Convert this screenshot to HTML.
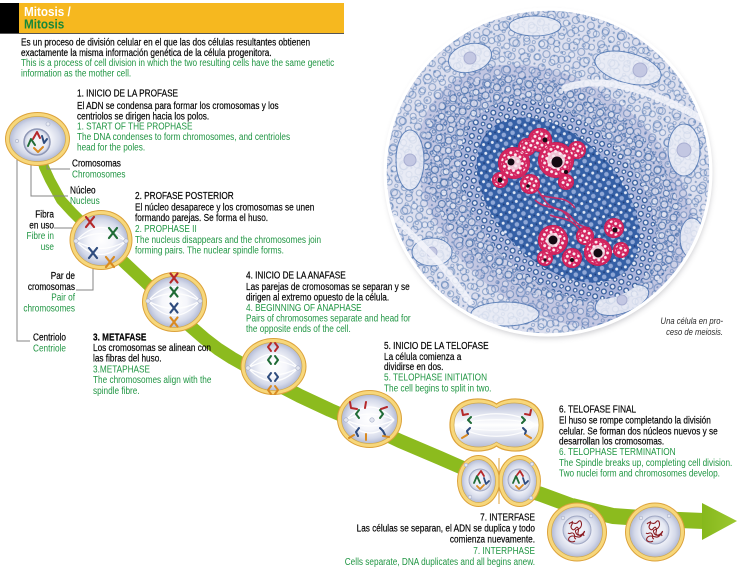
<!DOCTYPE html>
<html><head><meta charset="utf-8">
<style>
html,body{margin:0;padding:0;background:#fff;}
svg{display:block;}
text{font-family:"Liberation Sans",sans-serif;font-size:10.3px;}
.k{fill:#000;stroke:#000;stroke-width:.18px}
.g{fill:#1f9542}
</style></head><body>
<svg width="740" height="571" viewBox="0 0 740 571" xmlns="http://www.w3.org/2000/svg">
<defs>
 <radialGradient id="cg" cx="50%" cy="50%" r="50%">
  <stop offset="0" stop-color="#ffffff"/>
  <stop offset="0.45" stop-color="#f5f6fb"/>
  <stop offset="0.8" stop-color="#d4d9e9"/>
  <stop offset="1" stop-color="#b2bad5"/>
 </radialGradient>
 <radialGradient id="ng" cx="50%" cy="50%" r="50%">
  <stop offset="0" stop-color="#f6f7fb"/>
  <stop offset="0.75" stop-color="#e6e9f3"/>
  <stop offset="1" stop-color="#c3c9de"/>
 </radialGradient>
 <linearGradient id="pg" x1="0" y1="0" x2="0" y2="1">
  <stop offset="0" stop-color="#b6bdd6"/>
  <stop offset="0.25" stop-color="#e2e5f0"/>
  <stop offset="0.5" stop-color="#ffffff"/>
  <stop offset="0.75" stop-color="#e2e5f0"/>
  <stop offset="1" stop-color="#b6bdd6"/>
 </linearGradient>
 <linearGradient id="ag" x1="0" y1="0" x2="1" y2="0">
  <stop offset="0" stop-color="#86b81c"/>
  <stop offset="1" stop-color="#9cc830"/>
 </linearGradient>
 <pattern id="lace" width="16" height="14" patternUnits="userSpaceOnUse" patternTransform="rotate(20)">
  <circle cx="4" cy="4" r="3.5" fill="#dadded" stroke="#2f5d9f" stroke-width="1.1"/>
  <circle cx="12" cy="10" r="3" fill="#eef0f8" stroke="#2f5d9f" stroke-width="1"/>
  <circle cx="12" cy="3" r="1.1" fill="#2f5d9f"/>
  <circle cx="4" cy="11" r="1.6" fill="none" stroke="#2f5d9f" stroke-width=".8"/>
 </pattern>
 <pattern id="laceB" width="23" height="19" patternUnits="userSpaceOnUse" patternTransform="rotate(-35)">
  <circle cx="6" cy="6" r="4.5" fill="none" stroke="#3464a8" stroke-width="1.2"/>
  <circle cx="17" cy="13" r="3.2" fill="none" stroke="#3464a8" stroke-width="1"/>
  <circle cx="16" cy="4" r="1.4" fill="#3464a8"/>
 </pattern>
 <pattern id="lace2" width="10" height="10" patternUnits="userSpaceOnUse" patternTransform="rotate(15)">
  <rect width="10" height="10" fill="#aab4da"/>
  <circle cx="3" cy="3" r="2.4" fill="#e6eaf6" stroke="#2b5697" stroke-width="1.2"/>
  <circle cx="8" cy="7.5" r="1.8" fill="#f2f4fa" stroke="#2b5697" stroke-width="1.1"/>
 </pattern>
 <pattern id="dense" width="9" height="9" patternUnits="userSpaceOnUse" patternTransform="rotate(30)">
  <rect width="9" height="9" fill="#3560a6"/>
  <circle cx="3" cy="3" r="2.3" fill="#8fa7d6"/>
  <circle cx="7.5" cy="7" r="1.5" fill="#e1e8f6"/>
  <circle cx="7.5" cy="2" r=".9" fill="#1e3f7c"/>
 </pattern>
 <pattern id="speck" width="5" height="5" patternUnits="userSpaceOnUse" patternTransform="rotate(25)">
  <circle cx="2.5" cy="2.5" r="1.5" fill="#fbeef3"/>
  <circle cx="0" cy="0" r=".8" fill="#f3d6e2"/>
 </pattern>
 <clipPath id="cc"><circle cx="548" cy="172" r="162"/></clipPath>
 <filter id="blur" x="-20%" y="-20%" width="140%" height="140%"><feGaussianBlur stdDeviation="3"/></filter>
</defs>

<!-- Header -->
<rect x="0" y="3" width="19" height="31" fill="#000"/>
<rect x="19" y="3" width="325" height="31" fill="#f6b81f"/>
<line x1="0" y1="33.5" x2="344" y2="33.5" stroke="#555" stroke-width="1"/>
<g transform="translate(24 0) scale(.9 1)">
 <text y="16" style="font-size:13px;font-weight:bold" fill="#fff">Mitosis /</text>
 <text y="28.5" style="font-size:13px;font-weight:bold" fill="#16883a">Mitosis</text>
</g>

<!-- Big fractal circle -->
<circle cx="549" cy="175" r="163" fill="#8e8e96" opacity=".45" filter="url(#blur)"/>
<circle cx="548" cy="172" r="164.5" fill="#fff"/>
<g clip-path="url(#cc)">
 <rect x="380" y="5" width="340" height="340" fill="#dcdfee"/>
 <ellipse cx="556" cy="196" rx="155" ry="112" transform="rotate(40 556 196)" fill="#c2c6e1"/>
 <rect x="380" y="5" width="340" height="340" fill="url(#lace)" opacity=".45"/>
 <rect x="380" y="5" width="340" height="340" fill="url(#laceB)" opacity=".45"/>
 <ellipse cx="552" cy="190" rx="140" ry="100" transform="rotate(35 552 190)" fill="url(#lace)" opacity=".7"/>
 <!-- light outer regions -->
 <g fill="#eceef7" stroke="#4a72b0" stroke-width="1" opacity=".8">
  <ellipse cx="470" cy="58" rx="22" ry="14" transform="rotate(-15 470 58)"/>
  <ellipse cx="628" cy="68" rx="34" ry="15" transform="rotate(15 628 68)"/>
  <ellipse cx="684" cy="150" rx="16" ry="26"/>
  <ellipse cx="410" cy="160" rx="14" ry="30"/>
  <ellipse cx="432" cy="252" rx="20" ry="14"/>
  <ellipse cx="505" cy="314" rx="34" ry="12"/>
  <ellipse cx="622" cy="300" rx="28" ry="13" transform="rotate(-20 622 300)"/>
  <ellipse cx="692" cy="238" rx="12" ry="20"/>
  <ellipse cx="535" cy="26" rx="26" ry="10"/>
 </g>
 <g fill="#c3c7e2" stroke="#a9afd2" stroke-width="1">
  <circle cx="470" cy="58" r="6"/><circle cx="640" cy="70" r="7"/><circle cx="684" cy="150" r="7"/>
  <circle cx="410" cy="160" r="6"/><circle cx="432" cy="252" r="5"/><circle cx="622" cy="300" r="5"/>
 </g>
 <path d="M565,88 C610,72 660,96 708,122" stroke="#f3f4fa" stroke-width="7" fill="none" stroke-linecap="round" opacity=".85"/>
 <path d="M395,218 C420,242 445,266 470,302" stroke="#f3f4fa" stroke-width="6" fill="none" stroke-linecap="round" opacity=".85"/>
 <!-- dense center -->
 <ellipse cx="558" cy="200" rx="116" ry="78" transform="rotate(46 558 200)" fill="url(#lace2)"/>
 <ellipse cx="558" cy="200" rx="98" ry="62" transform="rotate(46 558 200)" fill="url(#dense)"/>
 <!-- pink lace middle -->
 <path d="M528,182 C545,192 540,205 560,210 C575,214 570,225 590,228 M540,195 C555,200 565,195 575,208 M550,215 C560,220 575,215 585,240 M535,200 C548,212 560,202 570,220" stroke="#c72a66" stroke-width="1.6" fill="none"/>
 <!-- pink upper blob -->
 <g id="pu">
  <circle cx="556" cy="160" r="18"/><circle cx="514" cy="163" r="16"/><circle cx="540" cy="140" r="12"/>
  <circle cx="577" cy="150" r="9"/><circle cx="530" cy="184" r="10"/><circle cx="500" cy="180" r="8"/>
  <circle cx="566" cy="182" r="8"/><circle cx="527" cy="147" r="9"/>
 </g>
 <g id="pl">
  <circle cx="553" cy="240" r="15"/><circle cx="598" cy="252" r="14"/><circle cx="614" cy="228" r="10"/>
  <circle cx="572" cy="258" r="10"/><circle cx="585" cy="236" r="9"/><circle cx="545" cy="258" r="8"/>
  <circle cx="621" cy="250" r="8"/>
 </g>
 <g fill="#d3245f">
  <circle cx="556" cy="160" r="18"/><circle cx="514" cy="163" r="16"/><circle cx="540" cy="140" r="12"/>
  <circle cx="577" cy="150" r="9"/><circle cx="530" cy="184" r="10"/><circle cx="500" cy="180" r="8"/>
  <circle cx="566" cy="182" r="8"/><circle cx="527" cy="147" r="9"/>
  <circle cx="553" cy="240" r="15"/><circle cx="598" cy="252" r="14"/><circle cx="614" cy="228" r="10"/>
  <circle cx="572" cy="258" r="10"/><circle cx="585" cy="236" r="9"/><circle cx="545" cy="258" r="8"/>
  <circle cx="621" cy="250" r="8"/>
 </g>
 <g fill="url(#speck)">
  <circle cx="556" cy="160" r="15"/><circle cx="514" cy="163" r="13"/><circle cx="540" cy="140" r="9.5"/>
  <circle cx="577" cy="150" r="7"/><circle cx="530" cy="184" r="8"/><circle cx="500" cy="180" r="6"/>
  <circle cx="566" cy="182" r="6"/><circle cx="527" cy="147" r="7"/>
  <circle cx="553" cy="240" r="12.5"/><circle cx="598" cy="252" r="11.5"/><circle cx="614" cy="228" r="8"/>
  <circle cx="572" cy="258" r="8"/><circle cx="585" cy="236" r="7"/><circle cx="545" cy="258" r="6"/>
  <circle cx="621" cy="250" r="6"/>
 </g>
 <g fill="#f7eaf0" opacity=".8">
  <circle cx="556" cy="160" r="9"/><circle cx="514" cy="163" r="7"/><circle cx="553" cy="240" r="7"/><circle cx="598" cy="252" r="7"/>
 </g>
 <g fill="#150a12">
  <circle cx="557" cy="162" r="5.5"/><circle cx="511" cy="162" r="3.5"/><circle cx="545" cy="140" r="2.5"/><circle cx="500" cy="180" r="2.5"/><circle cx="566" cy="172" r="2"/><circle cx="528" cy="186" r="1.8"/>
  <circle cx="553" cy="240" r="4.5"/><circle cx="598" cy="253" r="4.5"/><circle cx="615" cy="230" r="2.5"/><circle cx="572" cy="260" r="2"/><circle cx="545" cy="260" r="1.6"/>
 </g>
</g>
<circle cx="548" cy="172" r="162.5" fill="none" stroke="#fff" stroke-width="2.5"/>

<!-- Green band -->
<g fill="none" stroke="#8cbb1e" stroke-linejoin="round">
 <polyline stroke-width="10" points="40,150 44,167 50,180 61,200 72,212 90,230"/>
 <polyline stroke-width="12" points="88,228 101,240 127,265 143,280 166,302"/>
 <polyline stroke-width="13" points="162,298 174,310 190,326 205,339 218,349 232,358 248,367 264,377"/>
 <polyline stroke-width="14" points="258,373 273,382 300,396 330,410 365,425 378,430"/>
 <polyline stroke-width="14" points="366,425 400,441 440,458 472,472"/>
 <polyline stroke-width="15" points="470,470 500,482 540,494 578,508"/>
 <polyline stroke-width="16" points="572,506 613,516 655,519 704,521"/>
</g>
<polygon points="702,503 737,521 702,540" fill="url(#ag)"/>

<!-- Label lines -->
<g fill="none" stroke="#858585" stroke-width="1">
 <polyline points="17,141 17,341 30,341"/>
 <polyline points="31,150 31,196 68,196"/>
 <polyline points="47,143 47,169 70,169"/>
 <polyline points="54,228 80,228"/>
 <polyline points="76,290 93,290 93,258"/>
</g>

<!-- Cell 1 -->
<ellipse cx="37.5" cy="139" rx="32.5" ry="27" fill="#dca23a"/>
<ellipse cx="37.5" cy="139" rx="31.5" ry="26" fill="#f7d77b"/>
<ellipse cx="37.5" cy="139" rx="28" ry="22.5" fill="url(#cg)" stroke="#cfa84e" stroke-width=".7"/>
<circle cx="37" cy="142" r="13" fill="url(#ng)" stroke="#8e97b6" stroke-width="1.5"/>
<g fill="none" stroke-width="2" stroke-linecap="round" stroke-linejoin="round">
 <polyline points="33,139 37,132 40,138" stroke="#b5282a"/>
 <polyline points="28,146 31,139 35,145" stroke="#1f6b36"/>
 <polyline points="42,136 44,143 47,139" stroke="#2f4c7e"/>
 <polyline points="34,148 38,152 43,147" stroke="#d98a22"/>
</g>
<circle cx="48" cy="124" r="2" fill="#e8ebf3" stroke="#a5adc6" stroke-width=".6"/>
<circle cx="17" cy="141" r="1.6" fill="#e8ebf3" stroke="#a5adc6" stroke-width=".6"/>

<!-- Cell 2 -->
<ellipse cx="101" cy="240" rx="31.5" ry="30" fill="#dca23a"/>
<ellipse cx="101" cy="240" rx="30.5" ry="29" fill="#f7d77b"/>
<ellipse cx="101" cy="240" rx="27" ry="25.5" fill="url(#cg)" stroke="#cfa84e" stroke-width=".7"/>
<g fill="none" stroke="#fff" stroke-width="1.3" opacity=".95">
 <path d="M76,241 Q101,214 126,241"/><path d="M76,241 Q101,226 126,241"/>
 <path d="M76,241 Q101,256 126,241"/><path d="M76,241 Q101,268 126,241"/>
</g>
<circle cx="76" cy="241" r="2.2" fill="#e3e6f0" stroke="#a5adc6" stroke-width=".6"/>
<circle cx="126" cy="241" r="2.2" fill="#e3e6f0" stroke="#a5adc6" stroke-width=".6"/>
<g stroke-width="2.2" stroke-linecap="round">
 <path d="M86,217 L94,227 M94,217 L86,227" stroke="#b5282a"/>
 <path d="M109,228 L117,238 M117,228 L109,238" stroke="#1f6b36"/>
 <path d="M89,248 L97,258 M97,248 L89,258" stroke="#2f4c7e"/>
 <path d="M106,257 L114,267 M114,257 L106,267" stroke="#d98a22"/>
</g>

<!-- Cell 3 -->
<ellipse cx="174.5" cy="302" rx="32.5" ry="30" fill="#dca23a"/>
<ellipse cx="174.5" cy="302" rx="31.5" ry="29" fill="#f7d77b"/>
<ellipse cx="174.5" cy="302" rx="28" ry="25.5" fill="url(#cg)" stroke="#cfa84e" stroke-width=".7"/>
<g fill="none" stroke="#fff" stroke-width="1.3" opacity=".95">
 <path d="M148,301 Q174,272 200,301"/><path d="M148,301 Q174,286 200,301"/>
 <path d="M148,301 Q174,316 200,301"/><path d="M148,301 Q174,330 200,301"/>
</g>
<circle cx="148" cy="301" r="2.2" fill="#e3e6f0" stroke="#a5adc6" stroke-width=".6"/>
<circle cx="200" cy="301" r="2.2" fill="#e3e6f0" stroke="#a5adc6" stroke-width=".6"/>
<g stroke-width="2.2" stroke-linecap="round">
 <path d="M170.5,273.5 L177.5,282.5 M177.5,273.5 L170.5,282.5" stroke="#b5282a"/>
 <path d="M170.5,287.5 L177.5,296.5 M177.5,287.5 L170.5,296.5" stroke="#1f6b36"/>
 <path d="M170.5,303.5 L177.5,312.5 M177.5,303.5 L170.5,312.5" stroke="#2f4c7e"/>
 <path d="M170.5,317.5 L177.5,326.5 M177.5,317.5 L170.5,326.5" stroke="#d98a22"/>
</g>

<!-- Cell 4 -->
<ellipse cx="273.5" cy="366.5" rx="33" ry="28.5" fill="#dca23a"/>
<ellipse cx="273.5" cy="366.5" rx="32" ry="27.5" fill="#f7d77b"/>
<ellipse cx="273.5" cy="366.5" rx="28.5" ry="24" fill="url(#cg)" stroke="#cfa84e" stroke-width=".7"/>
<g fill="none" stroke="#fff" stroke-width="1.3" opacity=".95">
 <path d="M248,368 Q273,340 298,368"/><path d="M248,368 Q273,354 298,368"/>
 <path d="M248,368 Q273,382 298,368"/><path d="M248,368 Q273,394 298,368"/>
</g>
<circle cx="248" cy="368" r="2.2" fill="#e3e6f0" stroke="#a5adc6" stroke-width=".6"/>
<circle cx="298" cy="368" r="2.2" fill="#e3e6f0" stroke="#a5adc6" stroke-width=".6"/>
<g fill="none" stroke-width="2" stroke-linecap="round" stroke-linejoin="round">
 <path d="M271,343 L268,347 L271,351 M275,343 L278,347 L275,351" stroke="#b5282a"/>
 <path d="M271,356 L268,360 L271,364 M275,356 L278,360 L275,364" stroke="#1f6b36"/>
 <path d="M271,373 L268,377 L271,381 M275,373 L278,377 L275,381" stroke="#2f4c7e"/>
 <path d="M271,386 L268,390 L271,394 M275,386 L278,390 L275,394" stroke="#d98a22"/>
</g>

<!-- Cell 5 -->
<ellipse cx="369.5" cy="419" rx="32.5" ry="29" fill="#dca23a"/>
<ellipse cx="369.5" cy="419" rx="31.5" ry="28" fill="#f7d77b"/>
<ellipse cx="369.5" cy="419" rx="28" ry="24.5" fill="url(#cg)" stroke="#cfa84e" stroke-width=".7"/>
<g fill="none" stroke="#fff" stroke-width="1.3" opacity=".95">
 <path d="M346,420 Q370,394 394,420"/><path d="M346,420 Q370,408 394,420"/>
 <path d="M346,420 Q370,432 394,420"/><path d="M346,420 Q370,446 394,420"/>
</g>
<circle cx="346" cy="420" r="2.2" fill="#e3e6f0" stroke="#a5adc6" stroke-width=".6"/>
<circle cx="372" cy="420" r="2.2" fill="#e3e6f0" stroke="#a5adc6" stroke-width=".6"/>
<g fill="none" stroke-width="2" stroke-linecap="round" stroke-linejoin="round">
 <path d="M350,402 L351,408 L357,409 M366,402 L365,408 M381,409 L387,407" stroke="#b5282a"/>
 <path d="M359,410 L356,414 L359,418 M380,410 L383,414 L380,418" stroke="#1f6b36"/>
 <path d="M359,428 L356,432 L358,436 M380,428 L383,431 L385,435" stroke="#2f4c7e"/>
 <path d="M349,438 L354,435 M366,434 L366,440 M383,436 L389,437" stroke="#d98a22"/>
</g>

<!-- Cell 6a (peanut) -->
<path d="M496.5,404 C507,396 543,394 543,425 C543,456 507,454 496.5,446 C486,454 450,456 450,425 C450,394 486,396 496.5,404 Z" fill="#f7d77b" stroke="#dca23a" stroke-width="1.2"/>
<path d="M496.5,408 C507,400 539,399 539,425 C539,451 507,450 496.5,442 C486,450 454,451 454,425 C454,399 486,400 496.5,408 Z" fill="url(#pg)" stroke="#cfa84e" stroke-width=".7"/>
<g fill="none" stroke="#fff" stroke-width="1.2" opacity=".9">
 <path d="M458,425 C475,410 518,410 535,425"/><path d="M458,425 C475,418 518,418 535,425"/>
 <path d="M458,425 C475,432 518,432 535,425"/><path d="M458,425 C475,440 518,440 535,425"/>
</g>
<g fill="none" stroke-width="2" stroke-linecap="round" stroke-linejoin="round">
 <path d="M462,410 L463,415 L468,414 M531,410 L530,415 L525,414" stroke="#b5282a"/>
 <path d="M471,417 L468,420 L471,423 M522,417 L525,420 L522,423" stroke="#1f6b36"/>
 <path d="M470,428 L467,431 L468,434 M523,428 L526,431 L525,434" stroke="#2f4c7e"/>
 <path d="M462,438 L467,435 M531,438 L526,435" stroke="#d98a22"/>
</g>

<!-- Cell 6b (pair) -->
<ellipse cx="478.5" cy="481" rx="21.5" ry="26" fill="#dca23a"/>
<ellipse cx="519.5" cy="481" rx="21.5" ry="26" fill="#dca23a"/>
<ellipse cx="478.5" cy="481" rx="20.5" ry="25" fill="#f7d77b"/>
<ellipse cx="519.5" cy="481" rx="20.5" ry="25" fill="#f7d77b"/>
<line x1="499" y1="458" x2="499" y2="504" stroke="#dca23a" stroke-width="1"/>
<ellipse cx="478.5" cy="481" rx="17" ry="21.5" fill="url(#cg)" stroke="#cfa84e" stroke-width=".7"/>
<ellipse cx="519.5" cy="481" rx="17" ry="21.5" fill="url(#cg)" stroke="#cfa84e" stroke-width=".7"/>
<circle cx="480" cy="480" r="11" fill="url(#ng)" stroke="#a0a8c4" stroke-width="1"/>
<circle cx="519" cy="480" r="11" fill="url(#ng)" stroke="#a0a8c4" stroke-width="1"/>
<g fill="none" stroke-width="1.8" stroke-linecap="round" stroke-linejoin="round">
 <polyline points="474,483 477,476 480,483" stroke="#1f6b36"/>
 <polyline points="478,475 481,471 484,476" stroke="#b5282a"/>
 <polyline points="477,486 480,489 484,485" stroke="#d98a22"/>
 <polyline points="484,478 486,484 489,481" stroke="#2f4c7e"/>
 <polyline points="513,483 516,476 519,483" stroke="#1f6b36"/>
 <polyline points="517,475 520,471 523,476" stroke="#b5282a"/>
 <polyline points="516,486 519,489 523,485" stroke="#d98a22"/>
 <polyline points="523,478 525,484 528,481" stroke="#2f4c7e"/>
</g>
<g fill="#e3e6f0" stroke="#a5adc6" stroke-width=".6">
 <circle cx="466" cy="465" r="1.8"/><circle cx="470" cy="497" r="1.8"/>
 <circle cx="532" cy="464" r="1.8"/><circle cx="531" cy="498" r="1.8"/>
</g>

<!-- Cell 7a -->
<ellipse cx="577" cy="532" rx="30" ry="29.5" fill="#dca23a"/>
<ellipse cx="577" cy="532" rx="29" ry="28.5" fill="#f7d77b"/>
<ellipse cx="577" cy="532" rx="25.5" ry="25" fill="url(#cg)" stroke="#cfa84e" stroke-width=".7"/>
<circle cx="577" cy="530" r="14" fill="url(#ng)" stroke="#a0a8c4" stroke-width="1"/>
<path d="M569,524 c3,-4 6,2 9,-2 s5,3 2,6 s-6,1 -4,5 s6,2 8,-1 s-2,6 -6,5 s-7,-2 -9,1 s3,5 6,3 M572,521 c2,3 -3,5 0,8 s4,-4 6,-1 s-2,5 1,7 s4,-3 5,1 M568,533 c2,2 4,-2 6,1 s-1,4 2,5" fill="none" stroke="#8b1c22" stroke-width="1.1"/>
<circle cx="563" cy="518" r="1.8" fill="#e3e6f0" stroke="#a5adc6" stroke-width=".6"/>
<circle cx="591" cy="516" r="1.8" fill="#e3e6f0" stroke="#a5adc6" stroke-width=".6"/>

<!-- Cell 7b -->
<ellipse cx="655" cy="532" rx="30" ry="29.5" fill="#dca23a"/>
<ellipse cx="655" cy="532" rx="29" ry="28.5" fill="#f7d77b"/>
<ellipse cx="655" cy="532" rx="25.5" ry="25" fill="url(#cg)" stroke="#cfa84e" stroke-width=".7"/>
<circle cx="655" cy="530" r="14" fill="url(#ng)" stroke="#a0a8c4" stroke-width="1"/>
<path d="M647,524 c3,-4 6,2 9,-2 s5,3 2,6 s-6,1 -4,5 s6,2 8,-1 s-2,6 -6,5 s-7,-2 -9,1 s3,5 6,3 M650,521 c2,3 -3,5 0,8 s4,-4 6,-1 s-2,5 1,7 s4,-3 5,1 M646,533 c2,2 4,-2 6,1 s-1,4 2,5" fill="none" stroke="#8b1c22" stroke-width="1.1"/>
<circle cx="641" cy="518" r="1.8" fill="#e3e6f0" stroke="#a5adc6" stroke-width=".6"/>
<circle cx="669" cy="516" r="1.8" fill="#e3e6f0" stroke="#a5adc6" stroke-width=".6"/>

<!-- Intro text -->
<g transform="translate(21 0) scale(.8 1)">
 <text class="k" y="45.7">Es un proceso de división celular en el que las dos células resultantes obtienen</text>
 <text class="k" y="55.9">exactamente la misma información genética de la célula progenitora.</text>
 <text class="g" y="66.2">This is a process of cell division in which the two resulting cells have the same genetic</text>
 <text class="g" y="76.6">information as the mother cell.</text>
</g>

<!-- Block 1 -->
<g transform="translate(77 0) scale(.8 1)">
 <text class="k" y="96.7">1. INICIO DE LA PROFASE</text>
 <text class="k" y="109">El ADN se condensa para formar los cromosomas y los</text>
 <text class="k" y="119.3">centriolos se dirigen hacia los polos.</text>
 <text class="g" y="129.5">1. START OF THE PROPHASE</text>
 <text class="g" y="140.2">The DNA condenses to form chromosomes, and centrioles</text>
 <text class="g" y="150.6">head for the poles.</text>
</g>

<!-- Labels -->
<g transform="translate(72 0) scale(.8 1)">
 <text class="k" y="166.7">Cromosomas</text>
 <text class="g" y="177.3">Chromosomes</text>
</g>
<g transform="translate(70 0) scale(.8 1)">
 <text class="k" y="193.3">Núcleo</text>
 <text class="g" y="204">Nucleus</text>
</g>
<g transform="translate(54 0) scale(.8 1)" text-anchor="end">
 <text class="k" y="217.3">Fibra</text>
 <text class="k" y="228.3">en uso</text>
 <text class="g" y="239">Fibre in</text>
 <text class="g" y="250">use</text>
</g>
<g transform="translate(75 0) scale(.8 1)" text-anchor="end">
 <text class="k" y="279">Par de</text>
 <text class="k" y="290">cromosomas</text>
 <text class="g" y="300.7">Pair of</text>
 <text class="g" y="311.7">chromosomes</text>
</g>
<g transform="translate(33 0) scale(.8 1)">
 <text class="k" y="340.7">Centriolo</text>
 <text class="g" y="351.7">Centriole</text>
</g>

<!-- Block 2 -->
<g transform="translate(135 0) scale(.8 1)">
 <text class="k" y="199">2. PROFASE POSTERIOR</text>
 <text class="k" y="210.7">El núcleo desaparece y los cromosomas se unen</text>
 <text class="k" y="220.9">formando parejas. Se forma el huso.</text>
 <text class="g" y="232.2">2. PROPHASE II</text>
 <text class="g" y="243.1">The nucleus disappears and the chromosomes join</text>
 <text class="g" y="253.6">forming pairs. The nuclear spindle forms.</text>
</g>

<!-- Block 3 -->
<g transform="translate(93 0) scale(.8 1)">
 <text class="k" y="340.7" font-weight="bold">3. METAFASE</text>
 <text class="k" y="350.9">Los cromosomas se alinean con</text>
 <text class="k" y="361.6">las fibras del huso.</text>
 <text class="g" y="372.3">3.METAPHASE</text>
 <text class="g" y="383.2">The chromosomes align with the</text>
 <text class="g" y="393.8">spindle fibre.</text>
</g>

<!-- Block 4 -->
<g transform="translate(246 0) scale(.8 1)">
 <text class="k" y="278.3">4. INICIO DE LA ANAFASE</text>
 <text class="k" y="290">Las parejas de cromosomas se separan y se</text>
 <text class="k" y="300.7">dirigen al extremo opuesto de la célula.</text>
 <text class="g" y="310.9">4. BEGINNING OF ANAPHASE</text>
 <text class="g" y="321.7">Pairs of chromosomes separate and head for</text>
 <text class="g" y="332.2">the opposite ends of the cell.</text>
</g>

<!-- Block 5 -->
<g transform="translate(384 0) scale(.8 1)">
 <text class="k" y="349">5. INICIO DE LA TELOFASE</text>
 <text class="k" y="360">La célula comienza a</text>
 <text class="k" y="370.2">dividirse en dos.</text>
 <text class="g" y="380.7">5. TELOPHASE INITIATION</text>
 <text class="g" y="391.6">The cell begins to split in two.</text>
</g>

<!-- Block 6 -->
<g transform="translate(559 0) scale(.8 1)">
 <text class="k" y="412.3">6. TELOFASE FINAL</text>
 <text class="k" y="423.3">El huso se rompe completando la división</text>
 <text class="k" y="434.3">celular. Se forman dos núcleos nuevos y se</text>
 <text class="k" y="444.5">desarrollan los cromosomas.</text>
 <text class="g" y="455">6. TELOPHASE TERMINATION</text>
 <text class="g" y="465.8">The Spindle breaks up, completing cell division.</text>
 <text class="g" y="476.6">Two nuclei form and chromosomes develop.</text>
</g>

<!-- Block 7 -->
<g transform="translate(535 0) scale(.8 1)" text-anchor="end">
 <text class="k" y="520.7">7. INTERFASE</text>
 <text class="k" y="531.7">Las células se separan, el ADN se duplica y todo</text>
 <text class="k" y="542.6">comienza nuevamente.</text>
 <text class="g" y="553.9">7. INTERPHASE</text>
 <text class="g" y="564.8">Cells separate, DNA duplicates and all begins anew.</text>
</g>

<!-- Caption -->
<g transform="translate(723 0) scale(.85 1)" text-anchor="end">
 <text y="324" style="font-size:9px;font-style:italic" fill="#2a2a2a">Una célula en pro-</text>
 <text y="335" style="font-size:9px;font-style:italic" fill="#2a2a2a">ceso de meiosis.</text>
</g>
</svg>
</body></html>
